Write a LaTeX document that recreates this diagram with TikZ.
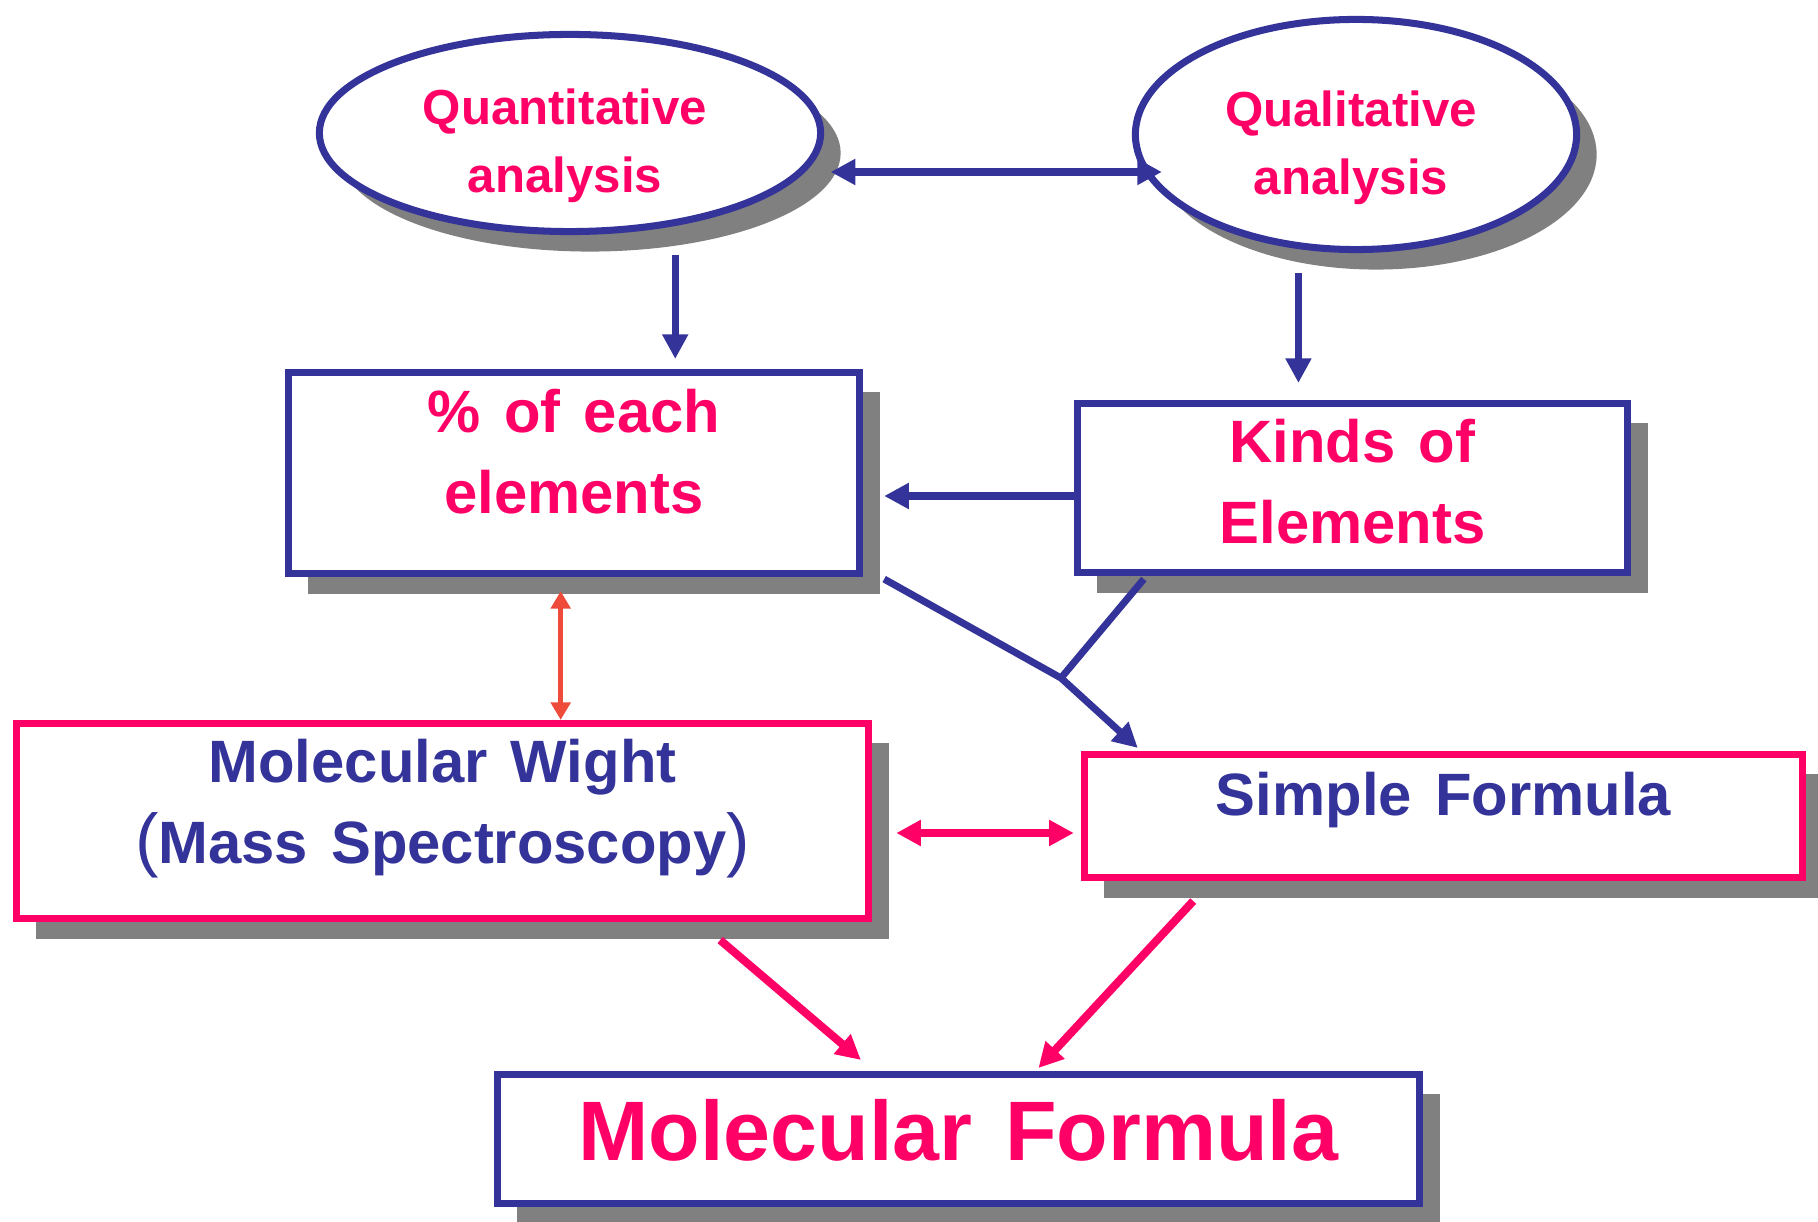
\documentclass[tikz,border=0pt]{standalone}
\usepackage{fontspec}
\setmainfont{Liberation Sans}[WordSpace=1.4]
\usetikzlibrary{arrows.meta, calc, shapes.geometric, shadows}

\definecolor{chemblue}{HTML}{333399}
\definecolor{chempink}{HTML}{FF0066}
\definecolor{chemred}{HTML}{EE4B3B}
\definecolor{shadowgray}{HTML}{808080}

% text block whose first baseline sits #1 above the node centre
\newcommand{\boxtext}[2]{\raisebox{#1}[0pt][0pt]{\begin{tabular}[t]{@{}c@{}}#2\end{tabular}}}
\newcommand{\thinparen}[1]{{\mdseries\fontsize{20}{20}\selectfont #1}}

\begin{document}
\begin{tikzpicture}[
    x=0.01cm, y=-0.01cm, % one unit = one pixel of the slide, y downwards
    line width=2pt,
    >={Triangle[length=7pt, width=7pt]},
    shadowed/.style={drop shadow={shadow xshift=0.2cm, shadow yshift=-0.2cm, opacity=1, fill=shadowgray}},
    oval/.style={ellipse, draw=chemblue, fill=white, shadowed, inner sep=0pt,
        text=chempink, font=\bfseries\fontsize{14}{19.3}\selectfont},
    bluebox/.style={rectangle, draw=chemblue, fill=white, shadowed, inner sep=0pt,
        text=chempink, font=\bfseries\fontsize{17}{23}\selectfont},
    pinkbox/.style={rectangle, draw=chempink, fill=white, shadowed, inner sep=0pt,
        text=chemblue, font=\bfseries\fontsize{17}{23}\selectfont},
    bluearrow/.style={->, chemblue},
    bluelink/.style={chemblue},
    pinkarrow/.style={->, chempink, line width=2.3pt},
    redarrow/.style={<->, chemred, line width=1.5pt, >={Triangle[length=5pt, width=5.5pt]}}
]

    \useasboundingbox (0,0) rectangle (1818,1222);

    % === 1. ANALYSIS OVALS ===
    \node[oval, minimum width=5.01cm, minimum height=1.97cm] (quant) at (570,133)
        {\boxtext{0.08cm}{Quantitative\\analysis}\hspace*{0.1cm}};
    \node[oval, minimum width=4.41cm, minimum height=2.30cm] (qual) at (1356,134.5)
        {\boxtext{0.075cm}{Qualitative\\analysis}\hspace*{0.1cm}};

    % === 2. BOXES ===
    \node[bluebox, minimum width=5.71cm, minimum height=2.01cm] (pct) at (574,473)
        {\boxtext{0.40cm}{\% of each\\elements}};
    \node[bluebox, minimum width=5.50cm, minimum height=1.69cm] (kinds) at (1352.5,488)
        {\boxtext{0.25cm}{Kinds of\\Elements}};
    \node[pinkbox, minimum width=8.52cm, minimum height=1.95cm] (mw) at (442.5,821)
        {\boxtext{0.38cm}{Molecular Wight\\\thinparen{(}Mass Spectroscopy\thinparen{)}}};
    \node[pinkbox, minimum width=7.18cm, minimum height=1.23cm] (sf) at (1443.5,816)
        {\boxtext{0cm}{Simple Formula}};
    \node[bluebox, minimum width=9.22cm, minimum height=1.29cm,
        font=\bfseries\fontsize{24}{28}\selectfont] (mf) at (958.5,1139)
        {\boxtext{-0.21cm}{Molecular Formula}};

    % === 3. CONNECTORS ===
    % Between the two ovals
    \coordinate (qa) at ($(quant.east)+(6.5,39)$);
    \draw[<->, chemblue, shorten >=-0.3cm] (qa) -- (qa -| qual.west);

    % Ovals down to the boxes
    \coordinate (pctQ) at ($(pct.north west)!0.675!(pct.north east)+(0,-10)$);
    \draw[bluearrow, shorten <=0.2cm] (quant.south -| pctQ) -- (pctQ);
    \coordinate (kindsQ) at ($(kinds.north west)!0.403!(kinds.north east)+(0,-17)$);
    \draw[bluearrow, shorten <=0.2cm] (qual.south -| kindsQ) -- (kindsQ);

    % Kinds of elements into % of each
    \coordinate (pctK) at ($(pct.east)+(21,23)$);
    \draw[bluearrow] (kinds.west |- pctK) -- (pctK);

    % Both upper boxes meet and go on to the simple formula
    \coordinate (junc) at (1061,678);
    \draw[bluelink] ($(kinds.south west)+(70,3)$) -- (junc);
    \draw[bluearrow] ($(pct.south east)+(21,2)$) -- (junc) -- ($(sf.north west)+(57,-3)$);

    % Percentages and molecular weight
    \coordinate (pctM) at ($(pct.south west)!0.477!(pct.south east)+(0,14)$);
    \draw[redarrow] (pctM) -- (pctM |- mw.north);

    % Molecular weight and simple formula
    \coordinate (mwS) at ($(mw.east)+(24,12)$);
    \draw[pinkarrow, <->, shorten >=0.07cm] (mwS) -- (mwS -| sf.west);

    % Down to the molecular formula
    \draw[pinkarrow] ($(mw.south west)!0.823!(mw.south east)+(0,18)$)
        -- ($(mf.north west)!0.395!(mf.north east)+(0,-11)$);
    \draw[pinkarrow] ($(sf.south west)!0.155!(sf.south east)+(0,20)$)
        -- ($(mf.north west)!0.586!(mf.north east)+(0,-3)$);

\end{tikzpicture}
\end{document}
